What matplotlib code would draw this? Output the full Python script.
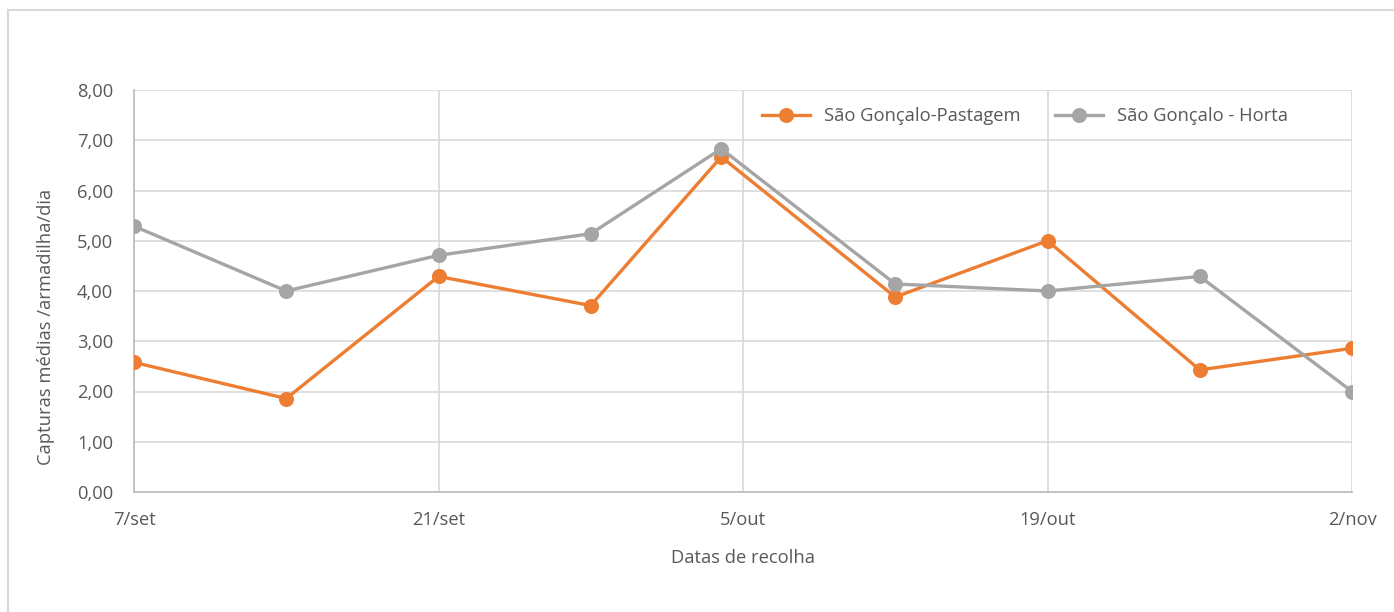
import matplotlib
matplotlib.use("Agg")
import matplotlib.pyplot as plt
from matplotlib.lines import Line2D

plt.rcParams['font.family'] = ['Open Sans', 'DejaVu Sans']

# Data (days after 7/set)
sample_days = [0, 7, 14, 21, 27, 35, 42, 49, 56]
pastagem = [2.58, 1.86, 4.29, 3.71, 6.67, 3.88, 5.00, 2.43, 2.86]
horta = [5.29, 4.00, 4.71, 5.14, 6.83, 4.14, 4.00, 4.29, 2.00]
series_names = ["São Gonçalo-Pastagem", "São Gonçalo - Horta"]
xtick_days = [0, 14, 28, 42, 56]
xtick_labels = ["7/set", "21/set", "5/out", "19/out", "2/nov"]
yticks = [0, 1, 2, 3, 4, 5, 6, 7, 8]

ORANGE = "#ED7D31"
GRAY = "#A5A5A5"
TXT = "#595959"
GRID = "#D9D9D9"
FS = 13.2

fig = plt.figure(figsize=(13.94, 6.12), dpi=100)
ax = fig.add_axes([134/1394, 1-492/612, (1352-134)/1394, (492-90)/612])

ax.plot(sample_days, pastagem, color=ORANGE, lw=2.4, marker='o', ms=9.8,
        label=series_names[0], zorder=3)
ax.plot(sample_days, horta, color=GRAY, lw=2.4, marker='o', ms=9.8,
        label=series_names[1], zorder=3)

ax.set_xlim(0, 56)
ax.set_ylim(0, 8)
ax.set_xticks(xtick_days)
ax.set_xticklabels(xtick_labels)
ax.set_yticks(yticks)
ax.set_yticklabels([f"{v:.2f}".replace('.', ',') for v in yticks])
ax.grid(True, color=GRID, lw=1.2, zorder=0)
ax.set_axisbelow(True)
for s in ['top', 'right']:
    ax.spines[s].set_visible(False)
for s in ['left', 'bottom']:
    ax.spines[s].set_color("#BFBFBF")
    ax.spines[s].set_linewidth(1.3)
ax.tick_params(axis='both', length=0, labelsize=FS, colors=TXT)
ax.tick_params(axis='x', pad=14)
ax.tick_params(axis='y', pad=15)
ax.set_xlabel("Datas de recolha", fontsize=FS, color=TXT, labelpad=14)
ax.set_ylabel("Capturas médias /armadilha/dia", fontsize=FS, color=TXT)
ax.yaxis.set_label_coords(-(134 - 55) / 1218, (492 - 327) / 402)

leg = ax.legend(loc='center left', bbox_to_anchor=(0.516, 0.935), ncol=2,
                frameon=False, fontsize=FS, labelcolor=TXT,
                handlelength=2.6, columnspacing=1.9, handletextpad=0.75,
                borderaxespad=0, borderpad=0)

# outer chart border (top & left)
fig.add_artist(Line2D([8/1394, 1.0], [1-10/612, 1-10/612], color=GRID, lw=1.5,
                      transform=fig.transFigure))
fig.add_artist(Line2D([8/1394, 8/1394], [0, 1-10/612], color=GRID, lw=1.5,
                      transform=fig.transFigure))

fig.savefig("out.png", dpi=100, facecolor="white")
